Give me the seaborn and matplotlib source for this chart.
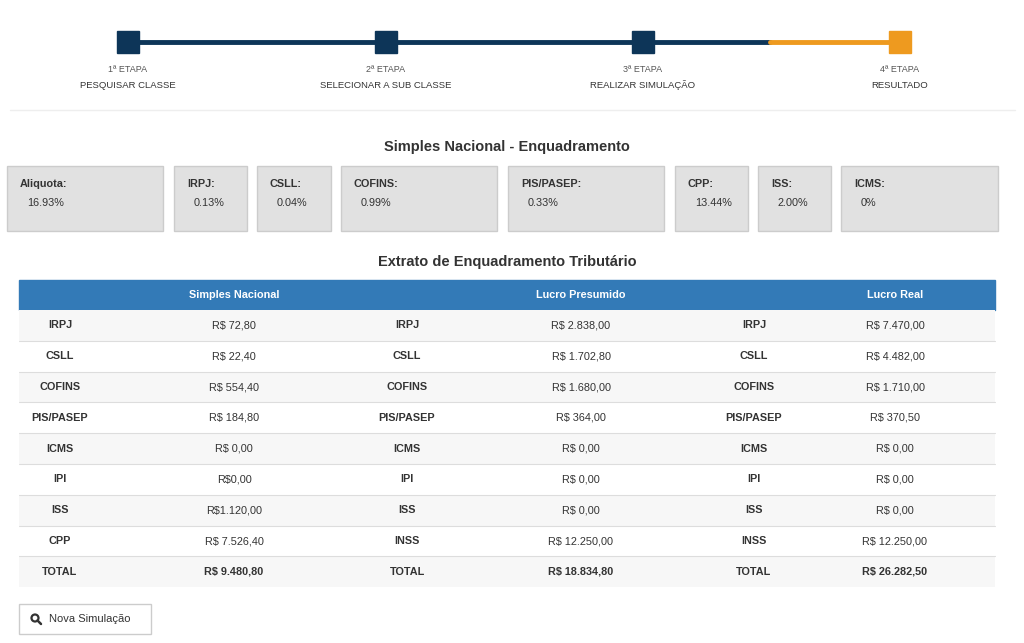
import matplotlib
matplotlib.use("Agg")
import matplotlib.pyplot as plt
from matplotlib.patches import Rectangle, Circle
import seaborn as sns

sns.set_theme(style="white", font="Liberation Sans")

# --- data ---
steps = ["1ª ETAPA", "2ª ETAPA", "3ª ETAPA", "4ª ETAPA"]
step_names = ["PESQUISAR CLASSE", "SELECIONAR A SUB CLASSE", "REALIZAR SIMULAÇÃO", "RESULTADO"]
rate_labels = ["Aliquota:", "IRPJ:", "CSLL:", "COFINS:", "PIS/PASEP:", "CPP:", "ISS:", "ICMS:"]
rate_values = ["16.93%", "0.13%", "0.04%", "0.99%", "0.33%", "13.44%", "2.00%", "0%"]
regimes = ["Simples Nacional", "Lucro Presumido", "Lucro Real"]
simples_names = ["IRPJ", "CSLL", "COFINS", "PIS/PASEP", "ICMS", "IPI", "ISS", "CPP", "TOTAL"]
simples_values = ["R$ 72,80", "R$ 22,40", "R$ 554,40", "R$ 184,80", "R$ 0,00", "R$0,00",
                  "R$1.120,00", "R$ 7.526,40", "R$ 9.480,80"]
presumido_names = ["IRPJ", "CSLL", "COFINS", "PIS/PASEP", "ICMS", "IPI", "ISS", "INSS", "TOTAL"]
presumido_values = ["R$ 2.838,00", "R$ 1.702,80", "R$ 1.680,00", "R$ 364,00", "R$ 0,00",
                    "R$ 0,00", "R$ 0,00", "R$ 12.250,00", "R$ 18.834,80"]
real_names = ["IRPJ", "CSLL", "COFINS", "PIS/PASEP", "ICMS", "IPI", "ISS", "INSS", "TOTAL"]
real_values = ["R$ 7.470,00", "R$ 4.482,00", "R$ 1.710,00", "R$ 370,50", "R$ 0,00",
               "R$ 0,00", "R$ 0,00", "R$ 12.250,00", "R$ 26.282,50"]

NAVY = "#0d3558"
ORANGE = "#ee9a1f"
BLUE = "#337ab7"
TXT = "#333333"

fig = plt.figure(figsize=(10.24, 6.43), dpi=100)
ax = fig.add_axes([0, 0, 1, 1])
ax.set_xlim(0, 1024)
ax.set_ylim(643, 0)
ax.axis("off")

# --- stepper ---
step_x = [128, 386, 643, 900]
ax.plot([128, 770], [42, 42], color=NAVY, lw=3.5, zorder=1)
ax.plot([770, 900], [42, 42], color=ORANGE, lw=3.5, zorder=1)
for i, x in enumerate(step_x):
    c = ORANGE if i == 3 else NAVY
    ax.add_patch(Rectangle((x - 11, 31), 22, 22, color=c, zorder=2))
    ax.text(x, 70, steps[i], ha="center", va="center", fontsize=6.5, color="#555")
    ax.text(x, 85, step_names[i], ha="center", va="center", fontsize=6.8, color="#333")
ax.plot([10, 1015], [110, 110], color="#eeeeee", lw=1)

# --- rate boxes ---
ax.text(507, 147, "Simples Nacional - Enquadramento", ha="center", va="center",
        fontsize=10.5, fontweight="bold", color=TXT)
box_x = [(7, 163), (174, 247), (257, 331), (341, 497), (508, 664), (675, 748), (758, 831), (841, 998)]
for (x0, x1), lab, val in zip(box_x, rate_labels, rate_values):
    ax.add_patch(Rectangle((x0, 166), x1 - x0, 65, facecolor="#e1e1e1",
                           edgecolor="#cccccc", lw=1))
    ax.text(x0 + 13, 184, lab, ha="left", va="center", fontsize=7.8,
            fontweight="bold", color=TXT)
    ax.text(x0 + 20, 203, val, ha="left", va="center", fontsize=7.8, color=TXT)

# --- table ---
ax.text(507, 262, "Extrato de Enquadramento Tributário", ha="center", va="center",
        fontsize=10.5, fontweight="bold", color=TXT)
tx0, tx1 = 19, 995
ax.add_patch(Rectangle((tx0, 280), tx1 - tx0, 30, color=BLUE))
for x, r in zip([234, 581, 895], regimes):
    ax.text(x, 295, r, ha="center", va="center", fontsize=7.8, fontweight="bold", color="white")

row_h = 30.8
cols = [(60, simples_names), (234, simples_values), (407, presumido_names),
        (581, presumido_values), (754, real_names), (895, real_values)]
for i in range(len(simples_names)):
    y0 = 310 + i * row_h
    if i % 2 == 0:
        ax.add_patch(Rectangle((tx0, y0), tx1 - tx0, row_h, color="#f7f7f7", lw=0))
    if i > 0:
        ax.plot([tx0, tx1], [y0, y0], color="#dddddd", lw=0.8)
    total = i == len(simples_names) - 1
    for j, (x, col) in enumerate(cols):
        bold = (j % 2 == 0) or total
        ax.text(x, y0 + row_h / 2, col[i], ha="center", va="center", fontsize=7.8,
                fontweight="bold" if bold else "normal", color=TXT)

# --- button ---
ax.add_patch(Rectangle((19, 604), 132, 30, facecolor="white", edgecolor="#cccccc", lw=1))
ax.add_patch(Circle((35, 618), 3.5, fill=False, edgecolor=TXT, lw=1.6))
ax.plot([37.5, 41], [620.5, 624], color=TXT, lw=1.8)
ax.text(49, 619, "Nova Simulação", ha="left", va="center", fontsize=8, color=TXT)

fig.savefig("out.png", dpi=100)
